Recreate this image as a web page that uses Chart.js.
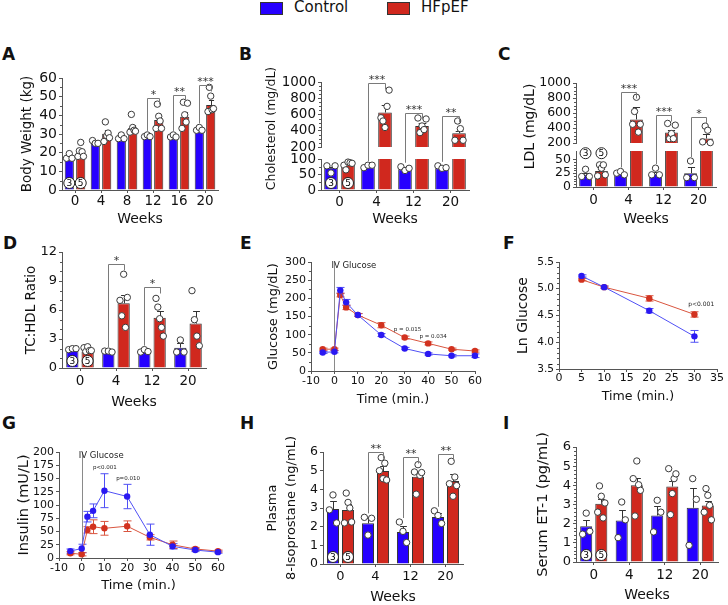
<!DOCTYPE html>
<html>
<head>
<meta charset="utf-8">
<title>HFpEF swine panels</title>
<script src="https://cdn.jsdelivr.net/npm/chart.js@4.4.1/dist/chart.umd.min.js"></script>
<style>
  html, body { margin: 0; padding: 0; background: #fff; }
  #fig { position: relative; width: 728px; height: 605px; overflow: hidden; font-family: "DejaVu Sans", sans-serif; color: #111; }
  #fig canvas { position: absolute; left: 0; top: 0; }
  .tag { position: absolute; font-weight: bold; font-size: 17px; line-height: 17px; }
  .key { position: absolute; top: 2px; width: 21px; height: 11px; border: 1px solid #333; }
  .keytxt { position: absolute; top: -1px; font-size: 15px; line-height: 17px; }
</style>
</head>
<body>
<div id="fig">
  <div class="key" style="left:260px;background:#2600ff"></div>
  <div class="keytxt" style="left:294px">Control</div>
  <div class="key" style="left:387px;background:#d0281e"></div>
  <div class="keytxt" style="left:421px">HFpEF</div>

  <div class="tag" style="left:2px;top:46px">A</div>
  <div class="tag" style="left:239px;top:46px">B</div>
  <div class="tag" style="left:498px;top:46px">C</div>
  <div class="tag" style="left:3px;top:235px">D</div>
  <div class="tag" style="left:240px;top:235px">E</div>
  <div class="tag" style="left:503px;top:235px">F</div>
  <div class="tag" style="left:2px;top:415px">G</div>
  <div class="tag" style="left:240px;top:415px">H</div>
  <div class="tag" style="left:503px;top:415px">I</div>

  <canvas id="cA" width="728" height="605"></canvas>
  <canvas id="cBlo" width="728" height="605"></canvas>
  <canvas id="cBhi" width="728" height="605"></canvas>
  <canvas id="cClo" width="728" height="605"></canvas>
  <canvas id="cChi" width="728" height="605"></canvas>
  <canvas id="cD" width="728" height="605"></canvas>
  <canvas id="cE" width="728" height="605"></canvas>
  <canvas id="cF" width="728" height="605"></canvas>
  <canvas id="cG" width="728" height="605"></canvas>
  <canvas id="cH" width="728" height="605"></canvas>
  <canvas id="cI" width="728" height="605"></canvas>
</div>
<script>
// categories / x values
const weeks6 = ["0", "4", "8", "12", "16", "20"];
const weeks4 = ["0", "4", "12", "20"];
const ivTime = [-5, 0, 2.5, 5, 10, 20, 30, 40, 50, 60];
const lnTime = [5, 10, 20, 30];

// A: body weight (kg)
const bwCtrl = [16.5, 25, 27.5, 28.6, 28.4, 32];
const bwCtrlSem = [1.2, 0.9, 0.8, 0.5, 0.6, 0.7];
const bwHf = [19.7, 30.2, 33.2, 37.5, 39.3, 45.5];
const bwHfSem = [1.6, 2, 1.8, 2.2, 2.7, 2.6];
const bwCtrlPts = [[17, 19.5, 17], [26.5, 25, 25], [27.5, 29.5, 27.5], [28.6, 29.5, 28.6], [28.4, 29.5, 28.4], [32, 33.5, 32]];
const bwHfPts = [[18, 21, 25.5, 20.5, 18], [26, 36.5, 29, 30.5, 28], [31, 40.5, 33.5, 32, 31.5], [33, 46, 39.5, 37, 33], [33, 47, 40.3, 36.4, 46.5], [42, 55, 50.3, 43, 43.6]];
const bwTicks = [0, 10, 20, 30, 40, 50, 60];

// B: cholesterol (mg/dL), broken axis
const cholCtrl = [72, 77, 67, 70];
const cholCtrlSem = [3, 1, 3, 2];
const cholHf = [82, 625, 460, 370];
const cholHfSem = [5, 88, 33, 25];
const cholCtrlPts = [[78, 55, 78], [72, 80, 80], [75, 63, 70], [78, 70, 72]];
const cholHfPts = [[80, 65, 90, 88, 86], [560, 520, 440, 700, 900], [557, 377, 459, 414, 545], [283, 520, 426, 283]];
const cholLoTicks = [0, 50, 100];
const cholHiTicks = [200, 400, 600, 800, 1000];

// C: LDL (mg/dL), broken axis
const ldlCtrl = [22, 25, 24, 25];
const ldlCtrlSem = [3, 1, 3, 12];
const ldlHf = [29, 515, 340, 260];
const ldlHfSem = [4, 170, 35, 60];
const ldlCtrlPts = [[19, 32, 19], [25, 28, 22], [22, 34, 22], [17, 47, 17]];
const ldlHfPts = [[20, 40, 34, 40, 22], [450, 620, 810, 345, 450], [461, 258, 326, 258, 438], [215, 425, 370, 205]];
const ldlLoTicks = [0, 25, 50];
const ldlHiTicks = [200, 400, 600, 800, 1000];

// D: TC:HDL ratio
const tcCtrl = [1.8, 1.6, 1.8, 2.1];
const tcCtrlSem = [0.15, 0.1, 0.1, 0.5];
const tcHf = [1.7, 6.7, 5.2, 4.6];
const tcHfSem = [0.15, 0.9, 0.7, 1.3];
const tcCtrlPts = [[1.9, 2.0, 2.0], [1.75, 1.75, 1.65], [1.65, 1.9, 1.7], [1.65, 2.9, 1.65]];
const tcHfPts = [[2.1, 1.7, 2.2, 1.8, 1.8], [7.0, 5.4, 9.7, 4.2, 7.3], [7.2, 6.3, 5.1, 4.2, 3.3], [8.0, 5.0, 3.3, 2.3]];
const tcTicks = [0, 3, 6, 9, 12];

// E: IV glucose tolerance (mg/dL)
const gluCtrl = [51, 53, 222, 189, 154, 99, 62, 47, 42, 42];
const gluCtrlSem = [3, 3, 8, 8, 4, 4, 3, 3, 3, 5];
const gluHf = [60, 60, 209, 175, 154, 126, 92, 76, 60, 55];
const gluHfSem = [3, 3, 5, 6, 4, 7, 4, 4, 3, 3];
const gluTicks = [0, 50, 100, 150, 200, 250, 300];
const minTicks = [-10, 0, 10, 20, 30, 40, 50, 60];

// F: ln glucose
const lnCtrl = [5.24, 5.03, 4.59, 4.11];
const lnCtrlSem = [0.02, 0.02, 0.04, 0.11];
const lnHf = [5.17, 5.03, 4.82, 4.52];
const lnHfSem = [0.02, 0.02, 0.05, 0.05];
const lnTicks = [3.5, 4.0, 4.5, 5.0, 5.5];
const lnTimeTicks = [0, 5, 10, 15, 20, 25, 30, 35];

// G: insulin (mU/L)
const insCtrl = [13, 18, 78, 89, 127, 116, 44, 22, 15, 11];
const insCtrlSem = [4, 8, 10, 13, 32, 23, 20, 5, 3, 2];
const insHf = [9, 7, 53, 59, 56, 60, 39, 25, 17, 13];
const insHfSem = [3, 3, 6, 13, 13, 10, 5, 7, 3, 2];
const insTicks = [0, 25, 50, 75, 100, 125, 150, 175, 200];

// H: plasma 8-isoprostane (ng/mL)
const isoCtrl = [2.94, 2.18, 1.71, 2.52];
const isoCtrlSem = [0.45, 0.3, 0.35, 0.2];
const isoHf = [2.89, 4.98, 4.68, 4.45];
const isoHfSem = [0.3, 0.25, 0.15, 0.35];
const isoCtrlPts = [[2.9, 3.7, 2.2], [2.5, 1.55, 2.45], [2.25, 1.75, 1.15], [2.85, 2.6, 2.17]];
const isoHfPts = [[2.2, 3.8, 3.3, 3.0, 2.25], [5.0, 5.7, 4.57, 5.4, 4.5], [4.93, 3.74, 5.32, 4.75, 4.9], [4.3, 5.5, 3.63, 4.66, 4.2]];
const isoTicks = [0, 1, 2, 3, 4, 5, 6];

// I: serum ET-1 (pg/mL)
const etCtrl = [1.86, 2.17, 2.43, 2.83];
const etCtrlSem = [0.35, 0.55, 0.5, 1.05];
const etHf = [3.04, 4.0, 3.94, 2.95];
const etHfSem = [0.25, 0.4, 0.3, 0.25];
const etCtrlPts = [[1.45, 2.55, 1.6], [1.27, 3.13, 2.2], [1.57, 3.22, 2.6], [0.87, 4.35, 3.27]];
const etHfPts = [[2.6, 3.97, 3.43, 2.3, 3.08], [4.35, 2.4, 5.27, 4.03, 3.74], [4.87, 2.47, 3.57, 4.35, 4.6], [2.6, 3.83, 3.48, 2.96, 2.2]];
const etTicks = [0, 1, 2, 3, 4, 5, 6];

const W = 728, H = 605;
const FONT = "'DejaVu Sans', sans-serif";
const BLUE = "#2600ff", RED = "#d0281e";
const BLUE_PT = "#2a18f2", RED_PT = "#d2321f";
const BLUE_LN = "#5050f5", RED_LN = "#d9553f";
const EDGE = "#333", AXIS = "#555", INK = "#111";

function minorTicks(cfg) {
  return {
    id: "minorTicks",
    afterDraw(chart) {
      const { ctx, chartArea: a } = chart;
      ctx.save();
      ctx.strokeStyle = AXIS;
      ctx.lineWidth = 1;
      ctx.beginPath();
      ["x", "y"].forEach(ax => {
        const n = cfg[ax];
        if (!n) return;
        const s = chart.scales[ax];
        const t = s.ticks.map(k => k.value);
        for (let i = 0; i < t.length - 1; i++) {
          for (let k = 1; k < n; k++) {
            const p = Math.round(s.getPixelForValue(t[i] + (t[i + 1] - t[i]) * k / n)) + 0.5;
            if (ax === "y") { ctx.moveTo(a.left - 2, p); ctx.lineTo(a.left, p); }
            else { ctx.moveTo(p, a.bottom); ctx.lineTo(p, a.bottom + 2); }
          }
        }
      });
      ctx.stroke();
      ctx.restore();
    }
  };
}

// error bars, single points, significance brackets and n-labels for bar panels
function barExtras(cfg) {
  return {
    id: "barExtras",
    afterDatasetsDraw(chart) {
      const { ctx, chartArea: a } = chart;
      const y = chart.scales.y;
      const inside = v => v >= y.min && v <= y.max;
      ctx.save();
      ctx.lineWidth = 1;
      [0, 1].forEach(d => {
        const vals = chart.data.datasets[d].data;
        chart.getDatasetMeta(d).data.forEach((bar, j) => {
          const m = vals[j], e = cfg.sem[d][j];
          if (inside(m) && e) {
            const cx = Math.round(bar.x) + 0.5;
            const yt = Math.round(y.getPixelForValue(Math.min(m + e, y.max))) + 0.5;
            ctx.strokeStyle = EDGE;
            ctx.beginPath();
            ctx.moveTo(cx, bar.y);
            ctx.lineTo(cx, yt);
            ctx.moveTo(cx - bar.width * 0.28, yt);
            ctx.lineTo(cx + bar.width * 0.28, yt);
            ctx.stroke();
          }
          const pts = cfg.pts[d][j];
          pts.forEach((v, k) => {
            if (!inside(v)) return;
            const dx = pts.length > 1 ? (k / (pts.length - 1) - 0.5) * bar.width * 0.6 : 0;
            ctx.beginPath();
            ctx.arc(bar.x + dx, y.getPixelForValue(v), 3.2, 0, Math.PI * 2);
            ctx.fillStyle = "#fff";
            ctx.fill();
            ctx.strokeStyle = "#3a3a3a";
            ctx.stroke();
          });
        });
      });

      (cfg.brackets || []).forEach(b => {
        const bl = chart.getDatasetMeta(0).data[b.i];
        const br = chart.getDatasetMeta(1).data[b.i];
        const xl = Math.round(bl.x) + 0.5, xr = Math.round(br.x) + 0.5;
        const yl = Math.round(y.getPixelForValue(b.level)) + 0.5;
        const top = Math.max(...cfg.pts[0][b.i]);
        const sc = top < y.min && cfg.link ? cfg.link.scales.y : y;
        const yb = sc.getPixelForValue(top) - 4;
        ctx.strokeStyle = "#7a7a7a";
        ctx.beginPath();
        ctx.moveTo(xl, yb);
        ctx.lineTo(xl, yl);
        ctx.lineTo(xr, yl);
        ctx.lineTo(xr, yl + 6);
        ctx.stroke();
        ctx.fillStyle = "#333";
        ctx.font = "11px " + FONT;
        ctx.textAlign = "center";
        ctx.textBaseline = "alphabetic";
        ctx.fillText(b.s, (xl + xr) / 2, yl - 1);
      });

      if (cfg.n) {
        [0, 1].forEach(d => {
          const bar = chart.getDatasetMeta(d).data[0];
          const cy = cfg.nY === undefined ? a.bottom - 7 : y.getPixelForValue(cfg.nY);
          ctx.beginPath();
          ctx.arc(bar.x, cy, 5.5, 0, Math.PI * 2);
          ctx.fillStyle = "#fff";
          ctx.fill();
          ctx.strokeStyle = "#222";
          ctx.stroke();
          ctx.fillStyle = "#000";
          ctx.font = "9px " + FONT;
          ctx.textAlign = "center";
          ctx.textBaseline = "middle";
          ctx.fillText(cfg.n[d], bar.x, cy + 0.5);
        });
      }

      if (cfg.side) {
        const t = cfg.side;
        ctx.translate(t.x, t.y);
        ctx.rotate(-Math.PI / 2);
        ctx.fillStyle = INK;
        ctx.font = t.size + "px " + FONT;
        ctx.textAlign = "center";
        ctx.textBaseline = "middle";
        ctx.fillText(t.text, 0, 0);
      }
      ctx.restore();
    }
  };
}

function yScale(p, yw) {
  return {
    min: p.yMin, max: p.yMax,
    afterBuildTicks: s => { s.ticks = p.yTicks.map(v => ({ value: v })); },
    afterFit: s => { s.width = yw; },
    grid: { drawOnChartArea: false, color: AXIS, tickLength: 3 },
    border: { color: AXIS },
    ticks: {
      color: INK, padding: 2, autoSkip: false,
      font: { family: FONT, size: p.yTickSize, lineHeight: 1 },
      callback: p.fmt || (v => String(v))
    },
    title: {
      display: !!p.yTitle, text: p.yTitle, color: INK, padding: 0,
      font: { family: FONT, size: p.yTitleSize, lineHeight: p.yTitleLh || 1.2 }
    }
  };
}

function barPanel(id, p) {
  const a = p.area;
  const yw = p.yTitle ? a.l - (p.yTitleX - p.yTitleSize * (p.yTitleLh || 1.2) / 2) : 48;
  const xh = p.showX ? p.xTitleY + p.xTitleSize * 0.6 - a.b : 0;
  const xPad = p.showX ? p.xTickY - a.b - 3 - p.xTickSize * 0.6 : 0;
  const bar = (label, data, color) => ({
    label, data, backgroundColor: color, borderColor: EDGE, borderWidth: 1,
    borderSkipped: "start", clip: 0, categoryPercentage: p.cat, barPercentage: 0.8
  });
  return new Chart(document.getElementById(id), {
    type: "bar",
    data: { labels: p.labels, datasets: [bar("Control", p.ctrl, BLUE), bar("HFpEF", p.hf, RED)] },
    options: {
      responsive: false, animation: false, events: [],
      layout: { padding: { left: a.l - yw, top: a.t, right: W - a.r, bottom: H - a.b - xh } },
      plugins: { legend: { display: false }, tooltip: { enabled: false } },
      scales: {
        x: {
          display: !!p.showX, offset: true,
          afterFit: s => { s.height = xh; },
          grid: { offset: false, drawOnChartArea: false, color: AXIS, tickLength: 3 },
          border: { color: AXIS },
          ticks: { color: INK, padding: xPad, maxRotation: 0, autoSkip: false, font: { family: FONT, size: p.xTickSize } },
          title: { display: true, text: "Weeks", color: INK, padding: 0, font: { family: FONT, size: p.xTitleSize } }
        },
        y: yScale(p, yw)
      }
    },
    plugins: [
      barExtras({ sem: [p.ctrlSem, p.hfSem], pts: [p.ctrlPts, p.hfPts], brackets: p.brackets, n: p.n, nY: p.nY, link: p.link, side: p.side }),
      minorTicks({ y: p.minor || 0 })
    ]
  });
}

// error bars, IV glucose marker and p-value notes for time-course panels
function lineExtras(cfg) {
  return {
    id: "lineExtras",
    beforeDatasetsDraw(chart) {
      const { ctx, chartArea: a, scales: { x, y } } = chart;
      ctx.save();
      ctx.lineWidth = 1;
      if (cfg.iv) {
        const px = Math.round(x.getPixelForValue(0)) + 0.5;
        ctx.strokeStyle = "#8a8a8a";
        ctx.beginPath();
        ctx.moveTo(px, a.top);
        ctx.lineTo(px, a.bottom);
        ctx.stroke();
      }
      chart.data.datasets.forEach((ds, d) => {
        ctx.strokeStyle = cfg.colors[d];
        ctx.beginPath();
        ds.data.forEach((pt, j) => {
          const e = cfg.sem[d][j];
          const px = Math.round(x.getPixelForValue(pt.x)) + 0.5;
          const y1 = y.getPixelForValue(pt.y - e), y2 = y.getPixelForValue(pt.y + e);
          ctx.moveTo(px, y1); ctx.lineTo(px, y2);
          ctx.moveTo(px - 4, y1); ctx.lineTo(px + 4, y1);
          ctx.moveTo(px - 4, y2); ctx.lineTo(px + 4, y2);
        });
        ctx.stroke();
      });
      ctx.restore();
    },
    afterDatasetsDraw(chart) {
      const { ctx, chartArea: a, scales: { x, y } } = chart;
      ctx.save();
      ctx.fillStyle = "#222";
      ctx.textBaseline = "middle";
      if (cfg.iv) {
        ctx.font = "8.5px " + FONT;
        ctx.textAlign = "left";
        ctx.fillText("IV Glucose", x.getPixelForValue(0) - 3, a.top + 4);
      }
      ctx.font = cfg.noteSize + "px " + FONT;
      ctx.textAlign = "center";
      (cfg.notes || []).forEach(n => ctx.fillText(n.t, x.getPixelForValue(n.x), y.getPixelForValue(n.y)));
      ctx.restore();
    }
  };
}

function linePanel(id, p) {
  const a = p.area;
  const yw = a.l - (p.yTitleX - p.yTitleSize * 0.6);
  const xh = p.xTitleY + p.xTitleSize * 0.6 - a.b;
  const xPad = p.xTickY - a.b - 3 - p.xTickSize * 0.6;
  const series = (label, ys, pt, ln) => ({
    label, data: p.xs.map((t, i) => ({ x: t, y: ys[i] })), showLine: true,
    borderColor: ln, borderWidth: 1, backgroundColor: pt, pointBackgroundColor: pt,
    pointBorderWidth: 0, pointRadius: 3.2, clip: false
  });
  return new Chart(document.getElementById(id), {
    type: "scatter",
    data: { datasets: [series("Control", p.ctrl, BLUE_PT, BLUE_LN), series("HFpEF", p.hf, RED_PT, RED_LN)] },
    options: {
      responsive: false, animation: false, events: [],
      layout: { padding: { left: a.l - yw, top: a.t, right: W - a.r, bottom: H - a.b - xh } },
      plugins: { legend: { display: false }, tooltip: { enabled: false } },
      scales: {
        x: {
          type: "linear", min: p.xMin, max: p.xMax,
          afterBuildTicks: s => { s.ticks = p.xTicks.map(v => ({ value: v })); },
          afterFit: s => { s.height = xh; },
          grid: { drawOnChartArea: false, color: AXIS, tickLength: 3 },
          border: { color: AXIS, dash: p.xDash || [] },
          ticks: { color: INK, padding: xPad, maxRotation: 0, autoSkip: false, font: { family: FONT, size: p.xTickSize }, callback: v => String(v) },
          title: { display: true, text: "Time (min.)", color: INK, padding: 0, font: { family: FONT, size: p.xTitleSize } }
        },
        y: yScale(p, yw)
      }
    },
    plugins: [
      lineExtras({ sem: [p.ctrlSem, p.hfSem], colors: [BLUE_LN, RED_LN], iv: p.iv, notes: p.notes, noteSize: p.noteSize }),
      minorTicks({ x: p.minorX || 0, y: p.minor || 0 })
    ]
  });
}

// A
barPanel("cA", {
  labels: weeks6, ctrl: bwCtrl, hf: bwHf, ctrlSem: bwCtrlSem, hfSem: bwHfSem, ctrlPts: bwCtrlPts, hfPts: bwHfPts,
  area: { l: 62, t: 78, r: 218, b: 190 }, cat: 0.88, showX: true,
  yMin: 0, yMax: 60, yTicks: bwTicks, yTickSize: 14, yTitle: "Body Weight (kg)", yTitleSize: 13.5, yTitleX: 27.5,
  xTickSize: 13.5, xTickY: 201.5, xTitleSize: 14, xTitleY: 219, minor: 2, n: ["3", "5"],
  brackets: [{ i: 3, level: 49.5, s: "*" }, { i: 4, level: 51, s: "**" }, { i: 5, level: 56.5, s: "***" }]
});

// B (lower segment first, the upper one links to it for bracket legs)
const bLo = barPanel("cBlo", {
  labels: weeks4, ctrl: cholCtrl, hf: cholHf, ctrlSem: cholCtrlSem, hfSem: cholHfSem, ctrlPts: cholCtrlPts, hfPts: cholHfPts,
  area: { l: 321, t: 159, r: 469, b: 190 }, cat: 0.92, showX: true,
  yMin: 0, yMax: 100, yTicks: cholLoTicks, yTickSize: 13.5,
  xTickSize: 13.5, xTickY: 202, xTitleSize: 14, xTitleY: 219, minor: 2, n: ["3", "5"],
  side: { text: "Cholesterol (mg/dL)", x: 271.5, y: 128.5, size: 12.5 }
});
barPanel("cBhi", {
  labels: weeks4, ctrl: cholCtrl, hf: cholHf, ctrlSem: cholCtrlSem, hfSem: cholHfSem, ctrlPts: cholCtrlPts, hfPts: cholHfPts,
  area: { l: 321, t: 82, r: 469, b: 147 }, cat: 0.92, showX: false,
  yMin: 200, yMax: 1000, yTicks: cholHiTicks, yTickSize: 13.5, minor: 4, link: bLo,
  brackets: [{ i: 1, level: 985, s: "***" }, { i: 2, level: 620, s: "***" }, { i: 3, level: 585, s: "**" }]
});

// C
const cLo = barPanel("cClo", {
  labels: weeks4, ctrl: ldlCtrl, hf: ldlHf, ctrlSem: ldlCtrlSem, hfSem: ldlHfSem, ctrlPts: ldlCtrlPts, hfPts: ldlHfPts,
  area: { l: 576, t: 151, r: 716, b: 187 }, cat: 0.91, showX: true,
  yMin: 0, yMax: 65, yTicks: ldlLoTicks, yTickSize: 12.5,
  xTickSize: 13.5, xTickY: 200, xTitleSize: 14, xTitleY: 219, minor: 5, n: ["3", "5"], nY: 61,
  side: { text: "LDL (mg/dL)", x: 530, y: 126.5, size: 14 }
});
barPanel("cChi", {
  labels: weeks4, ctrl: ldlCtrl, hf: ldlHf, ctrlSem: ldlCtrlSem, hfSem: ldlHfSem, ctrlPts: ldlCtrlPts, hfPts: ldlHfPts,
  area: { l: 576, t: 83, r: 716, b: 143 }, cat: 0.91, showX: false,
  yMin: 200, yMax: 1000, yTicks: ldlHiTicks, yTickSize: 12.5, minor: 4, link: cLo,
  brackets: [{ i: 1, level: 880, s: "***" }, { i: 2, level: 575, s: "***" }, { i: 3, level: 548, s: "*" }]
});

// D
barPanel("cD", {
  labels: weeks4, ctrl: tcCtrl, hf: tcHf, ctrlSem: tcCtrlSem, hfSem: tcHfSem, ctrlPts: tcCtrlPts, hfPts: tcHfPts,
  area: { l: 62, t: 252, r: 206, b: 368 }, cat: 0.85, showX: true,
  yMin: 0, yMax: 12, yTicks: tcTicks, yTickSize: 13, yTitle: "TC:HDL Ratio", yTitleSize: 13.5, yTitleX: 31.5,
  xTickSize: 13.5, xTickY: 381, xTitleSize: 14, xTitleY: 402, minor: 3, n: ["3", "5"],
  brackets: [{ i: 1, level: 10.75, s: "*" }, { i: 2, level: 8.4, s: "*" }]
});

// E
linePanel("cE", {
  xs: ivTime, ctrl: gluCtrl, hf: gluHf, ctrlSem: gluCtrlSem, hfSem: gluHfSem,
  area: { l: 311, t: 262, r: 475, b: 371 },
  xMin: -10, xMax: 60, xTicks: minTicks, yMin: 0, yMax: 300, yTicks: gluTicks,
  yTickSize: 11, yTitle: "Glucose (mg/dL)", yTitleSize: 13, yTitleX: 273.5,
  xTickSize: 11, xTickY: 381, xTitleSize: 12.6, xTitleY: 400, minor: 2, iv: true, noteSize: 5.5,
  notes: [{ x: 31.2, y: 115, t: "p = 0.015" }, { x: 42.1, y: 96, t: "p = 0.034" }]
});

// F
linePanel("cF", {
  xs: lnTime, ctrl: lnCtrl, hf: lnHf, ctrlSem: lnCtrlSem, hfSem: lnHfSem,
  area: { l: 559, t: 262, r: 717, b: 369 },
  xMin: 0, xMax: 35, xTicks: lnTimeTicks, yMin: 3.5, yMax: 5.5, yTicks: lnTicks, fmt: v => v.toFixed(1),
  yTickSize: 10.5, yTitle: "Ln Glucose", yTitleSize: 14, yTitleX: 523.5,
  xTickSize: 11, xTickY: 378, xTitleSize: 12.6, xTitleY: 397, minor: 5, xDash: [1, 1.5], noteSize: 6,
  notes: [{ x: 31.5, y: 4.71, t: "p<0.001" }]
});

// G
linePanel("cG", {
  xs: ivTime, ctrl: insCtrl, hf: insHf, ctrlSem: insCtrlSem, hfSem: insHfSem,
  area: { l: 59, t: 452, r: 218, b: 558 },
  xMin: -10, xMax: 60, xTicks: minTicks, yMin: 0, yMax: 200, yTicks: insTicks,
  yTickSize: 11, yTitle: "Insulin (mU/L)", yTitleSize: 14.5, yTitleX: 24,
  xTickSize: 11, xTickY: 568, xTitleSize: 13, xTitleY: 586, iv: true, noteSize: 5.5,
  notes: [{ x: 10.2, y: 170, t: "p<0.001" }, { x: 20.4, y: 149, t: "p=0.010" }]
});

// H
barPanel("cH", {
  labels: weeks4, ctrl: isoCtrl, hf: isoHf, ctrlSem: isoCtrlSem, hfSem: isoHfSem, ctrlPts: isoCtrlPts, hfPts: isoHfPts,
  area: { l: 323, t: 452, r: 463, b: 564 }, cat: 0.86, showX: true,
  yMin: 0, yMax: 6, yTicks: isoTicks, yTickSize: 12.5,
  yTitle: ["Plasma", "8-Isoprostane (ng/mL)"], yTitleSize: 13, yTitleLh: 1.45, yTitleX: 273,
  xTickSize: 13, xTickY: 577, xTitleSize: 14, xTitleY: 597, n: ["3", "5"],
  brackets: [{ i: 1, level: 6.0, s: "**" }, { i: 2, level: 5.72, s: "**" }, { i: 3, level: 5.88, s: "**" }]
});

// I
barPanel("cI", {
  labels: weeks4, ctrl: etCtrl, hf: etHf, ctrlSem: etCtrlSem, hfSem: etHfSem, ctrlPts: etCtrlPts, hfPts: etHfPts,
  area: { l: 576, t: 447, r: 718, b: 562 }, cat: 0.85, showX: true,
  yMin: 0, yMax: 6, yTicks: etTicks, yTickSize: 13, yTitle: "Serum ET-1 (pg/mL)", yTitleSize: 14.5, yTitleX: 543.5,
  xTickSize: 13.5, xTickY: 575, xTitleSize: 14, xTitleY: 595, minor: 5, n: ["3", "5"]
});
</script>
</body>
</html>
